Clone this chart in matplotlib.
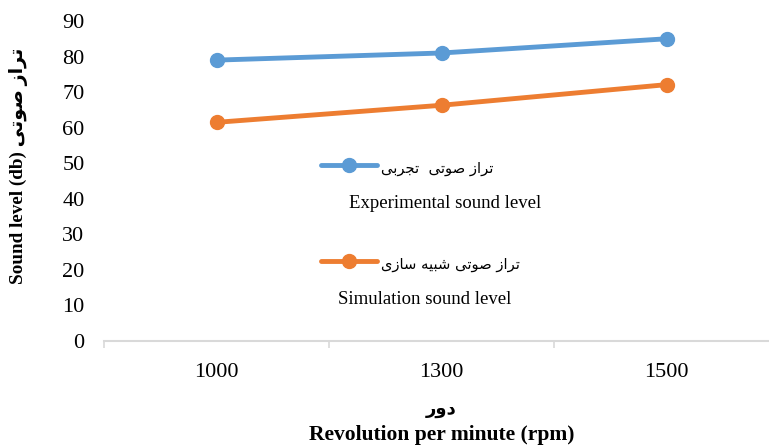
import matplotlib
matplotlib.use("Agg")
import matplotlib.pyplot as plt
from matplotlib.lines import Line2D

# ---- data ----
categories = ["1000", "1300", "1500"]
experimental = [79, 81, 85]
simulation = [61.5, 66.3, 72.1]
yticks = [0, 10, 20, 30, 40, 50, 60, 70, 80, 90]
series_fa = ["تراز صوتی  تجربی", "تراز صوتی شبیه سازی"]
series_en = ["Experimental sound level", "Simulation sound level"]
xlabel_fa = "دور"
xlabel_en = "Revolution per minute (rpm)"
ylabel_fa = "تراز صوتی"
ylabel_en = "Sound level (db)"

# ---- simple Arabic/Persian shaping (presentation forms) ----
FORMS = {
    'ا': ('\uFE8D', '\uFE8E', None, None),
    'ب': ('\uFE8F', '\uFE90', '\uFE91', '\uFE92'),
    'ت': ('\uFE95', '\uFE96', '\uFE97', '\uFE98'),
    'ج': ('\uFE9D', '\uFE9E', '\uFE9F', '\uFEA0'),
    'د': ('\uFEA9', '\uFEAA', None, None),
    'ر': ('\uFEAD', '\uFEAE', None, None),
    'ز': ('\uFEAF', '\uFEB0', None, None),
    'س': ('\uFEB1', '\uFEB2', '\uFEB3', '\uFEB4'),
    'ش': ('\uFEB5', '\uFEB6', '\uFEB7', '\uFEB8'),
    'ص': ('\uFEB9', '\uFEBA', '\uFEBB', '\uFEBC'),
    'ه': ('\uFEE9', '\uFEEA', '\uFEEB', '\uFEEC'),
    'و': ('\uFEED', '\uFEEE', None, None),
    'ی': ('\uFBFC', '\uFBFD', '\uFBFE', '\uFBFF'),
}


def shape(text):
    out = []
    n = len(text)
    for i, ch in enumerate(text):
        if ch not in FORMS:
            out.append(ch)
            continue
        iso, fin, ini, med = FORMS[ch]
        prev = text[i - 1] if i > 0 else None
        nxt = text[i + 1] if i < n - 1 else None
        join_prev = prev in FORMS and FORMS[prev][2] is not None
        join_next = nxt in FORMS and ini is not None
        if join_prev and join_next:
            out.append(med)
        elif join_prev:
            out.append(fin)
        elif join_next:
            out.append(ini)
        else:
            out.append(iso)
    return "".join(out)[::-1]


FA = ['Liberation Serif', 'DejaVu Sans']
plt.rcParams['font.family'] = FA

W, H = 769, 448
fig = plt.figure(figsize=(W / 100, H / 100), dpi=100)
ax = fig.add_axes([104 / W, (H - 341) / H, 675 / W, 320 / H])

colors = ["#5B9BD5", "#ED7D31"]
xs = list(range(len(categories)))
for vals, c in zip([experimental, simulation], colors):
    ax.plot(xs, vals, color=c, lw=3.5, marker='o', ms=10, solid_capstyle='round', zorder=3)

ax.set_xlim(-0.5, len(categories) - 0.5)
ax.set_ylim(0, 90)
ax.set_yticks(yticks)
ax.set_yticklabels([str(v) for v in yticks], fontsize=16)
ax.tick_params(axis='y', length=0, pad=14)

ax.set_xticks([i - 0.5 for i in range(len(categories) + 1)])
ax.set_xticklabels([])
ax.set_xticks(xs, minor=True)
ax.set_xticklabels(categories, minor=True, fontsize=16)
ax.tick_params(axis='x', which='major', length=5, width=1.2, color='#D9D9D9', direction='out')
ax.tick_params(axis='x', which='minor', length=0, pad=16)

for s in ['top', 'right', 'left']:
    ax.spines[s].set_visible(False)
ax.spines['bottom'].set_color('#D9D9D9')
ax.spines['bottom'].set_linewidth(1.5)

# x labels
cx = (104 + 779) / 2 / W
fig.text(cx, 1 - 409 / H, shape(xlabel_fa), ha='center', va='center',
         fontsize=13, fontweight='bold', family=['DejaVu Sans'])
fig.text(cx, 1 - 435 / H, xlabel_en, ha='center', va='center',
         fontsize=15.5, fontweight='bold')

# y label
fig.text(19 / W, 1 - 166 / H, ylabel_en + " " + shape(ylabel_fa), rotation=90,
         ha='center', va='center', fontsize=13.8, fontweight='bold', family=FA)

# legend (manual)
leg = [(165, 169, 203, 445), (261, 265, 300, 425)]
for (hy, fy, ey, ecx), c, fa, en in zip(leg, colors, series_fa, series_en):
    fig.add_artist(Line2D([321 / W, 377 / W], [1 - hy / H, 1 - hy / H], color=c, lw=3.5,
                          solid_capstyle='round'))
    fig.add_artist(Line2D([349 / W], [1 - hy / H], color=c, marker='o', ms=10))
    fig.text(381 / W, 1 - fy / H, shape(fa), ha='left', va='center', fontsize=10.6,
             family=['DejaVu Sans'])
    fig.text(ecx / W, 1 - ey / H, en, ha='center', va='center', fontsize=13.5)

fig.savefig("out.png", dpi=100)
